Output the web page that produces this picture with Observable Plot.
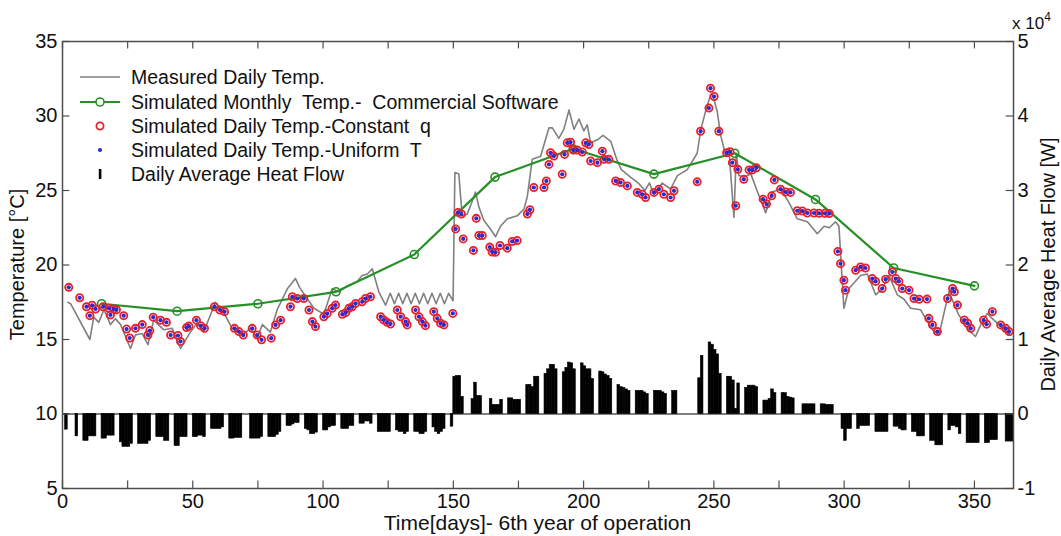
<!DOCTYPE html>
<html><head><meta charset="utf-8">
<script src="https://cdn.jsdelivr.net/npm/d3@7"></script>
<script src="https://cdn.jsdelivr.net/npm/@observablehq/plot@0.6"></script>
<style>
body{margin:0;background:#fff;font-family:"Liberation Sans",Arial,sans-serif}
</style>
</head><body><div id="chart"></div>
<script>
// ---------- data ----------
const measuredDays = [2,3.1,10.5,12,13.9,15.9,18.4,20.3,22.3,26.1,28,30.6,32.8,35,38.9,42.1,45.3,49.1,51.7,54.2,58.7,61.9,65.1,69,72.1,74.7,76.7,79.8,82.4,86.3,89.4,91,93.3,96.5,100.3,103.5,106.1,109.3,113.1,115,117,118.9,121.4,124,125.8,127.4,129,130.6,132.2,133.8,135.4,137,138.6,140.2,141.8,143.4,145,146.6,148.2,149.9,150.6,152.1,153.4,155.3,157.3,158.5,159.8,161.7,164.3,166.2,168.1,170.7,174.5,177.1,178.4,180.3,183.5,186.7,188,190.5,192.4,194.4,196.3,198.2,200.1,201.4,202.7,205.3,207.5,210.4,212.9,214.5,218,221,223.5,225.3,227,230.2,233.4,236,239.8,243.6,245,246.8,248.7,249.4,251.3,252.6,254.5,255.8,257.7,258.6,259.6,261.5,264.2,267,269.9,272.4,275.6,278.8,282,285.9,289.7,292.3,294.3,296.7,298,299.9,301.8,306.3,308.9,312.1,314.6,317.2,320.4,323,325.5,329.3,331.3,333.9,336.4,340.2,344,347.2,350.4,353,354.9,356.9,359.4,362,364];
const measuredTemp = [17.5,17.4,15.0,16.5,16.15,17.0,16.0,16.4,16.0,14.4,15.3,15.4,14.65,16.3,15.65,15.75,14.4,15.5,16.1,15.5,17.5,16.8,15.75,15.3,15.75,15.1,16.0,15.5,17.0,18.4,19.1,18.5,17.9,17.1,16.7,18.4,18.2,18.6,18.9,19.3,19.4,19.75,18.2,17.3,18.1,17.4,18.1,17.4,18.1,17.4,18.1,17.4,18.1,17.4,18.1,17.4,18.1,17.4,18.1,17.6,26.2,26.1,23.3,23.4,24.3,24.9,23.9,23.0,22.4,21.9,22.6,23.1,23.3,23.75,24.6,27.1,27.3,29.2,29.2,28.5,29.1,30.4,29.1,29.8,29.0,29.4,28.2,28.4,28.7,28.3,27.0,26.4,25.9,25.5,25.0,25.5,24.7,25.5,25.1,26.0,26.4,27.5,29.1,30.3,31.4,31.5,30.3,28.7,27.4,27.7,23.2,27.5,26.0,25.9,26.1,24.8,23.5,24.9,25.1,24.2,23.1,22.9,22.1,22.6,22.5,22.9,22.6,17.1,18.4,19.3,19.4,18.0,18.4,19.3,18.0,17.7,17.1,17.0,16.4,15.65,15.3,18.2,16.65,15.75,15.2,16.2,16.75,16.4,16.0,15.5,15.3];

const monthlyDays = [15,44,75,105,135,166,196,227,258,289,319,350];
const monthlyTemp = [17.4,16.9,17.4,18.2,20.7,25.9,27.8,26.1,27.5,24.4,19.8,18.6];

const simDays = [2.4,6.6,9.2,10.5,11.4,12.7,15.6,17.8,18.4,19.7,20.7,23.5,24.6,25.8,28,30.6,32.8,33.5,34.8,37.6,39.9,41.5,44.3,45.3,47.6,48.5,51.4,53,54.5,58.3,60.4,62.2,66,67.7,69.4,72.8,74.7,76.4,80.1,81.8,83.7,87.5,88.2,90.1,92.6,94.6,95.9,97.1,100.3,101.6,103.5,104.8,107.4,108.7,109.9,111.2,112.5,115,116.3,118.2,122.1,123.3,124.6,125.9,128.5,129.8,131.7,132.3,135.5,136.8,138.1,139.3,142.5,143.8,145.1,146.4,149.8,150.9,151.8,153.1,153.8,157.7,158.8,159.8,161.1,164,164.9,166.2,167.9,170.7,172.6,174.5,178.4,179.4,180.9,184.8,185.7,186.7,187.3,188.6,191.8,192.7,193.7,195,196,197.6,199.5,200.8,202,202.7,205.3,207.2,207.9,209.7,212.3,214.2,216.8,220.6,222.5,223.8,227,228.9,230.8,233.4,234.7,243.6,244.9,248.1,248.7,250.1,251.9,254.9,256.2,257.1,258.4,259.2,261.5,263.5,264.8,266.3,268.9,270.2,272.2,273.2,275.6,277.5,279.4,282,284,285.9,288.4,290.4,292.6,294.3,297.6,298.6,299.9,300.5,304.4,306.3,308.2,310.8,312.1,314.6,315.9,318.5,319.8,321,322.3,324.9,326.8,328.8,331.8,332.5,333.9,335.8,339.7,341.6,342.3,343.5,346.1,347.4,348.6,353.5,354.7,356.9,360.1,362,363.3];
const simConstQ = [18.5,17.8,17.2,16.6,17.3,17.05,17.2,17.1,16.65,17.05,17.0,16.6,15.7,15.1,15.75,16.0,15.3,15.6,16.5,16.3,16.15,15.3,15.27,14.87,15.8,15.9,16.3,15.93,15.75,17.2,16.98,16.87,15.75,15.53,15.3,15.75,15.3,14.98,15.09,15.98,16.3,17.2,17.87,17.75,17.75,16.98,16.2,15.87,16.53,16.75,17.09,17.31,16.69,16.8,17.09,17.2,17.42,17.53,17.75,17.87,16.53,16.31,16.15,16.04,16.98,16.53,16.2,15.98,16.98,16.53,16.2,15.93,16.87,16.42,16.09,15.98,16.75,22.42,23.53,23.42,21.75,20.98,23.13,21.98,21.98,21.2,20.87,20.85,21.31,21.13,21.58,21.64,23.42,23.71,25.2,25.2,25.64,26.75,27.53,27.31,26.09,27.42,28.2,28.24,27.71,27.71,27.58,28.2,28.09,26.98,26.87,27.64,27.09,27.09,25.64,25.53,25.31,24.87,24.75,24.53,24.87,25.09,24.75,24.53,24.98,25.58,28.98,30.53,31.87,31.31,28.98,27.53,27.6,26.87,23.98,26.42,25.75,26.38,26.38,26.53,24.42,24.09,24.64,25.71,25.09,24.9,24.87,23.64,23.62,23.49,23.49,23.47,23.47,23.45,20.91,20.09,18.98,18.31,19.65,19.87,19.8,19.09,18.9,18.42,19.05,19.53,19.09,18.9,18.42,18.31,17.75,17.7,17.71,16.42,15.98,15.53,17.75,18.42,18.2,17.31,16.31,16.09,15.75,16.31,16.03,16.87,15.98,15.75,15.53];
const simUniformT = simConstQ; // the two simulated series coincide in the picture

// daily average heat flow, in units of 10^4 W
const heatDays = [1,5,8,9,10,11,12,15,16,17,18,19,22,23,24,25,26,29,30,31,32,33,36,37,38,39,40,43,44,45,46,47,50,51,52,53,54,57,58,59,60,61,64,65,66,67,68,72,73,74,75,76,79,80,81,82,83,86,87,88,89,90,93,94,95,96,97,100,101,102,103,104,107,108,109,110,111,114,115,116,117,118,121,122,123,124,125,128,129,130,131,132,135,136,137,138,139,142,143,144,145,146,149,150,151,152,153,157,158,159,160,164,165,166,167,168,171,172,173,174,175,178,179,180,181,182,185,186,187,188,189,192,193,194,195,196,199,200,201,202,203,206,207,208,209,210,213,214,215,216,217,220,221,222,223,224,227,228,229,230,231,234,235,244,245,248,249,250,251,252,255,256,257,258,259,262,263,264,265,266,269,270,271,272,273,276,277,278,279,280,284,285,286,287,288,291,292,293,294,295,299,300,301,302,305,306,307,308,309,312,313,314,315,316,319,320,321,322,323,326,327,328,329,330,333,334,335,336,337,340,341,342,343,344,347,348,349,350,351,354,355,356,357,358,362,363,364];
const heatFlow = [-0.21,-0.30,-0.36,-0.36,-0.30,-0.30,-0.30,-0.33,-0.33,-0.29,-0.29,-0.29,-0.38,-0.44,-0.44,-0.44,-0.40,-0.40,-0.40,-0.40,-0.40,-0.36,-0.31,-0.31,-0.31,-0.36,-0.36,-0.43,-0.43,-0.31,-0.31,-0.31,-0.31,-0.31,-0.29,-0.29,-0.31,-0.20,-0.20,-0.20,-0.20,-0.18,-0.33,-0.33,-0.32,-0.32,-0.32,-0.33,-0.33,-0.33,-0.33,-0.31,-0.31,-0.31,-0.31,-0.28,-0.24,-0.16,-0.16,-0.14,-0.12,-0.12,-0.20,-0.22,-0.27,-0.27,-0.25,-0.22,-0.22,-0.18,-0.16,-0.16,-0.20,-0.20,-0.20,-0.16,-0.16,-0.13,-0.13,-0.10,-0.10,-0.13,-0.24,-0.24,-0.24,-0.24,-0.24,-0.22,-0.24,-0.24,-0.27,-0.24,-0.24,-0.24,-0.27,-0.27,-0.24,-0.18,-0.24,-0.27,-0.24,-0.20,-0.17,0.50,0.51,0.51,0.23,0.20,0.42,0.24,0.24,0.20,0.12,0.12,0.12,0.19,0.21,0.21,0.19,0.19,0.19,0.39,0.39,0.36,0.50,0.50,0.54,0.60,0.66,0.66,0.60,0.56,0.62,0.69,0.68,0.60,0.68,0.64,0.60,0.60,0.47,0.57,0.56,0.53,0.51,0.47,0.39,0.36,0.35,0.33,0.31,0.31,0.31,0.31,0.29,0.27,0.31,0.31,0.31,0.29,0.27,0.31,0.31,0.48,0.78,0.96,0.93,0.86,0.80,0.54,0.50,0.50,0.45,0.07,0.41,0.35,0.38,0.38,0.38,0.36,0.18,0.18,0.20,0.33,0.28,0.28,0.28,0.23,0.22,0.21,0.13,0.13,0.13,0.13,0.13,0.13,0.13,0.12,0.12,0.12,-0.20,-0.36,-0.20,-0.20,-0.20,-0.16,-0.16,-0.16,-0.16,-0.24,-0.24,-0.24,-0.24,-0.24,-0.17,-0.17,-0.20,-0.22,-0.22,-0.24,-0.24,-0.30,-0.30,-0.30,-0.36,-0.36,-0.42,-0.42,-0.42,-0.22,-0.16,-0.16,-0.18,-0.27,-0.39,-0.39,-0.39,-0.39,-0.39,-0.39,-0.39,-0.35,-0.35,-0.35,-0.37,-0.37,-0.37];

const xTickValues = [0,25,50,75,100,125,150,175,200,225,250,275,300,325,350];
const xLabelValues = [0,50,100,150,200,250,300,350];
const yTickValues = [5,10,15,20,25,30,35];
const legendLabels = ["Measured Daily Temp.","Simulated Monthly  Temp.-  Commercial Software","Simulated Daily Temp.-Constant  q","Simulated Daily Temp.-Uniform  T","Daily Average Heat Flow"];
const xTitle = "Time[days]- 6th year of operation";
const yTitle = "Temperature [°C]";
const y2Title = "Daily Average Heat Flow [W]";

// ---------- build tables ----------
const measured = measuredDays.map((d,i)=>({day:d,t:measuredTemp[i]}));
const monthly = monthlyDays.map((d,i)=>({day:d,t:monthlyTemp[i]}));
const simQ = simDays.map((d,i)=>({day:d,t:simConstQ[i]}));
const simU = simDays.map((d,i)=>({day:d,t:simUniformT[i]}));
const heat = heatDays.map((d,i)=>({day:d,h:heatFlow[i]}));
// right axis: heat flow (10^4 W) h  <->  temperature axis 10 + 5h
const heatToT = h => 10 + 5*h;
const tToHeat = t => (t - 10)/5;

const W=1061, H=536, ML=62, MR=48, MT=41, MB=48;
const frameColor = "#4d4d4d";
const GREEN="#259025", RED="#e8202a", BLUE="#2b2bd0", GRAY="#808080";

const plot = Plot.plot({
  width:W, height:H, marginLeft:ML, marginRight:MR, marginTop:MT, marginBottom:MB,
  style:{fontFamily:'"Liberation Sans",Arial,sans-serif', fontSize:"20px", color:"#111", background:"#fff"},
  x:{domain:[0,365]},
  y:{domain:[5,35]},
  marks:[
    Plot.rectY(heat,{x1:d=>d.day,x2:d=>d.day+1,y1:()=>10,y2:d=>heatToT(d.h),fill:"#000",stroke:"#000",strokeWidth:0.6,inset:0}),
    Plot.ruleY([10],{stroke:"#000",strokeWidth:1}),
    Plot.line(measured,{x:"day",y:"t",stroke:GRAY,strokeWidth:1.6}),
    Plot.line(monthly,{x:"day",y:"t",stroke:GREEN,strokeWidth:2.2}),
    Plot.dot(monthly,{x:"day",y:"t",r:4,stroke:GREEN,strokeWidth:1.6,fill:"none"}),
    Plot.dot(simQ,{x:"day",y:"t",r:3.6,stroke:RED,strokeWidth:1.8,fill:"none"}),
    Plot.dot(simU,{x:"day",y:"t",r:2.1,fill:BLUE,stroke:"none"}),
    // inward tick marks on all four sides
    Plot.ruleX(xTickValues,{x:d=>d,y1:5,y2:5.5,stroke:frameColor,strokeWidth:1.2}),
    Plot.ruleX(xTickValues,{x:d=>d,y1:34.5,y2:35,stroke:frameColor,strokeWidth:1.2}),
    Plot.ruleY(yTickValues,{y:d=>d,x1:0,x2:2.8,stroke:frameColor,strokeWidth:1.2}),
    Plot.ruleY(yTickValues,{y:d=>d,x1:362.2,x2:365,stroke:frameColor,strokeWidth:1.2}),
    Plot.frame({stroke:frameColor,strokeWidth:1.5}),
    Plot.axisX(xLabelValues,{tickSize:0,tickPadding:5,label:null,fontSize:20}),
    Plot.axisY(yTickValues,{anchor:"left",tickSize:0,tickPadding:5,label:null,fontSize:20}),
    Plot.axisY(yTickValues,{anchor:"right",tickSize:0,tickPadding:4,label:null,fontSize:20,tickFormat:t=>String(tToHeat(t))})
  ]
});
document.getElementById("chart").appendChild(plot);

// ---------- titles and legend ----------
const svg = d3.select(plot);
const xs = plot.scale("x"), ys = plot.scale("y");
const cx = (xs.apply(0)+xs.apply(365))/2, cy = (ys.apply(5)+ys.apply(35))/2;
const font = '"Liberation Sans",Arial,sans-serif';
svg.append("text").attr("x",cx).attr("y",530).attr("text-anchor","middle")
  .attr("font-size",21).attr("font-family",font).attr("fill","#111").text(xTitle);
svg.append("text").attr("transform",`translate(24,${cy}) rotate(-90)`).attr("text-anchor","middle")
  .attr("font-size",20).attr("font-family",font).attr("fill","#111").text(yTitle);
svg.append("text").attr("transform",`translate(1055,${cy}) rotate(-90)`).attr("text-anchor","middle")
  .attr("font-size",20).attr("font-family",font).attr("fill","#111").text(y2Title);
const ex = svg.append("text").attr("x",1012).attr("y",29).attr("text-anchor","start").attr("font-size",17).attr("font-family",font).attr("fill","#111");
ex.append("tspan").text("x 10");
ex.append("tspan").attr("dy",-8).attr("font-size",12).text("4");

const lg = svg.append("g").attr("font-family",font).attr("font-size",19.5).attr("fill","#111").attr("text-anchor","start");
const rowY = [77,102,126,150,174];
legendLabels.forEach((lab,i)=>{
  lg.append("text").attr("x",131).attr("y",rowY[i]).attr("dy","0.35em").attr("text-anchor","start").text(lab);
});
lg.append("line").attr("x1",80).attr("x2",120).attr("y1",rowY[0]).attr("y2",rowY[0]).attr("stroke",GRAY).attr("stroke-width",1.6);
lg.append("line").attr("x1",80).attr("x2",120).attr("y1",rowY[1]).attr("y2",rowY[1]).attr("stroke",GREEN).attr("stroke-width",2.2);
lg.append("circle").attr("cx",100).attr("cy",rowY[1]).attr("r",4).attr("stroke",GREEN).attr("stroke-width",1.6).attr("fill","#fff");
lg.append("circle").attr("cx",100).attr("cy",rowY[2]).attr("r",3.6).attr("stroke",RED).attr("stroke-width",1.8).attr("fill","none");
lg.append("circle").attr("cx",100).attr("cy",rowY[3]).attr("r",2.1).attr("fill",BLUE);
lg.append("rect").attr("x",98.8).attr("y",rowY[4]-5).attr("width",2.6).attr("height",10).attr("fill","#000");
</script>
</body></html>
